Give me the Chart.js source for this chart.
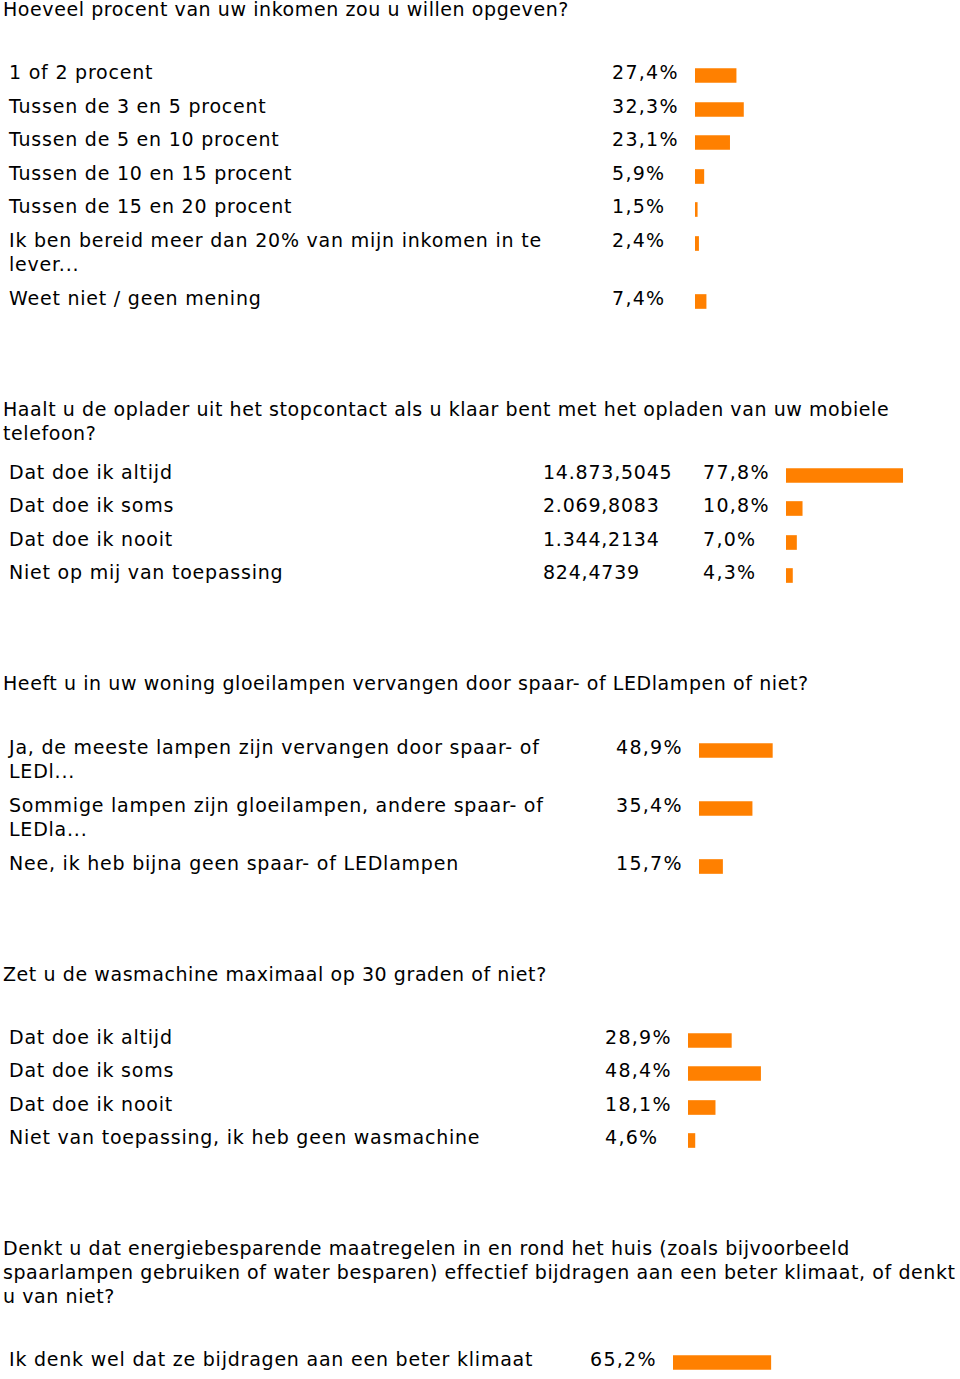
<!DOCTYPE html>
<html>
<head>
<meta charset="utf-8">
<script src="https://cdn.jsdelivr.net/npm/chart.js@4"></script>
<style>
  body { margin: 0; background: #fff; color: #000; font-family: "DejaVu Sans", Verdana, sans-serif; font-size: 19px; line-height: 24px; width: 960px; overflow: hidden; }
  .q { padding-left: 3px; white-space: pre; letter-spacing: 0.58px; }
  .rows { padding-left: 9px; }
  .row { display: flex; align-items: flex-start; margin-bottom: 9.6px; }
  .row:last-child { margin-bottom: 0; }
  .lbl { white-space: pre; flex: none; letter-spacing: 0.78px; }
  .cnt { flex: none; white-space: nowrap; letter-spacing: 0.78px; }
  .pct { flex: none; white-space: nowrap; letter-spacing: 1.3px; }
  canvas { display: block; flex: none; }
</style>
</head>
<body>
<div id="page"></div>
<script>
// question texts
const questions = [
  'Hoeveel procent van uw inkomen zou u willen opgeven?',
  'Haalt u de oplader uit het stopcontact als u klaar bent met het opladen van uw mobiele\ntelefoon?',
  'Heeft u in uw woning gloeilampen vervangen door spaar- of LEDlampen of niet?',
  'Zet u de wasmachine maximaal op 30 graden of niet?',
  'Denkt u dat energiebesparende maatregelen in en rond het huis (zoals bijvoorbeeld\nspaarlampen gebruiken of water besparen) effectief bijdragen aan een beter klimaat, of denkt\nu van niet?'
];

const q1Labels = ['1 of 2 procent', 'Tussen de 3 en 5 procent', 'Tussen de 5 en 10 procent', 'Tussen de 10 en 15 procent',
  'Tussen de 15 en 20 procent', 'Ik ben bereid meer dan 20% van mijn inkomen in te\nlever...', 'Weet niet / geen mening'];
const q1Values = [27.4, 32.3, 23.1, 5.9, 1.5, 2.4, 7.4];

const q2Labels = ['Dat doe ik altijd', 'Dat doe ik soms', 'Dat doe ik nooit', 'Niet op mij van toepassing'];
const q2Counts = [14873.5045, 2069.8083, 1344.2134, 824.4739];
const q2Values = [77.8, 10.8, 7.0, 4.3];

const q3Labels = ['Ja, de meeste lampen zijn vervangen door spaar- of\nLEDl...', 'Sommige lampen zijn gloeilampen, andere spaar- of\nLEDla...', 'Nee, ik heb bijna geen spaar- of LEDlampen'];
const q3Values = [48.9, 35.4, 15.7];

const q4Labels = ['Dat doe ik altijd', 'Dat doe ik soms', 'Dat doe ik nooit', 'Niet van toepassing, ik heb geen wasmachine'];
const q4Values = [28.9, 48.4, 18.1, 4.6];

const q5Labels = ['Ik denk wel dat ze bijdragen aan een beter klimaat'];
const q5Values = [65.2];

function pctText(v) { return v.toFixed(1).replace('.', ',') + '%'; }
function countText(v) {
  const parts = v.toFixed(4).split('.');
  return parts[0].replace(/\B(?=(\d{3})+(?!\d))/g, '.') + ',' + parts[1];
}

// layout per section: label column width, count column, top gaps
const sections = [
  { q: questions[0], labels: q1Labels, values: q1Values, lblW: 603, gapBefore: -3, gapAfterQ: 39 },
  { q: questions[1], labels: q2Labels, values: q2Values, counts: q2Counts, lblW: 534, cntW: 160, gapBefore: 87, gapAfterQ: 15 },
  { q: questions[2], labels: q3Labels, values: q3Values, lblW: 607, gapBefore: 87, gapAfterQ: 40 },
  { q: questions[3], labels: q4Labels, values: q4Values, lblW: 596, gapBefore: 87, gapAfterQ: 39 },
  { q: questions[4], labels: q5Labels, values: q5Values, lblW: 581, gapBefore: 87, gapAfterQ: 39 }
];

const page = document.getElementById('page');

function barChart(canvas, value) {
  return new Chart(canvas, {
    type: 'bar',
    data: {
      labels: [''],
      datasets: [{ data: [value], backgroundColor: '#ff8000', borderWidth: 0, barThickness: 14 }]
    },
    options: {
      indexAxis: 'y',
      responsive: false,
      animation: false,
      events: [],
      layout: { padding: { top: 7, bottom: 0, left: 0, right: 0 } },
      plugins: { legend: { display: false }, tooltip: { enabled: false } },
      scales: {
        x: { display: false, min: 0, max: 100 },
        y: { display: false }
      }
    }
  });
}

sections.forEach(sec => {
  const q = document.createElement('div');
  q.className = 'q';
  q.style.marginTop = sec.gapBefore + 'px';
  q.textContent = sec.q;
  page.appendChild(q);

  const rows = document.createElement('div');
  rows.className = 'rows';
  rows.style.marginTop = sec.gapAfterQ + 'px';
  page.appendChild(rows);

  sec.labels.forEach((label, i) => {
    const row = document.createElement('div');
    row.className = 'row';
    const lbl = document.createElement('div');
    lbl.className = 'lbl';
    lbl.style.width = sec.lblW + 'px';
    lbl.textContent = label;
    row.appendChild(lbl);
    if (sec.counts) {
      const c = document.createElement('div');
      c.className = 'cnt';
      c.style.width = sec.cntW + 'px';
      c.textContent = countText(sec.counts[i]);
      row.appendChild(c);
    }
    const p = document.createElement('div');
    p.className = 'pct';
    p.style.width = '83px';
    p.textContent = pctText(sec.values[i]);
    row.appendChild(p);
    const cv = document.createElement('canvas');
    cv.width = 150;
    cv.height = 24;
    cv.style.width = '150px';
    cv.style.height = '24px';
    row.appendChild(cv);
    rows.appendChild(row);
    barChart(cv, sec.values[i]);
  });
});
</script>
</body>
</html>
